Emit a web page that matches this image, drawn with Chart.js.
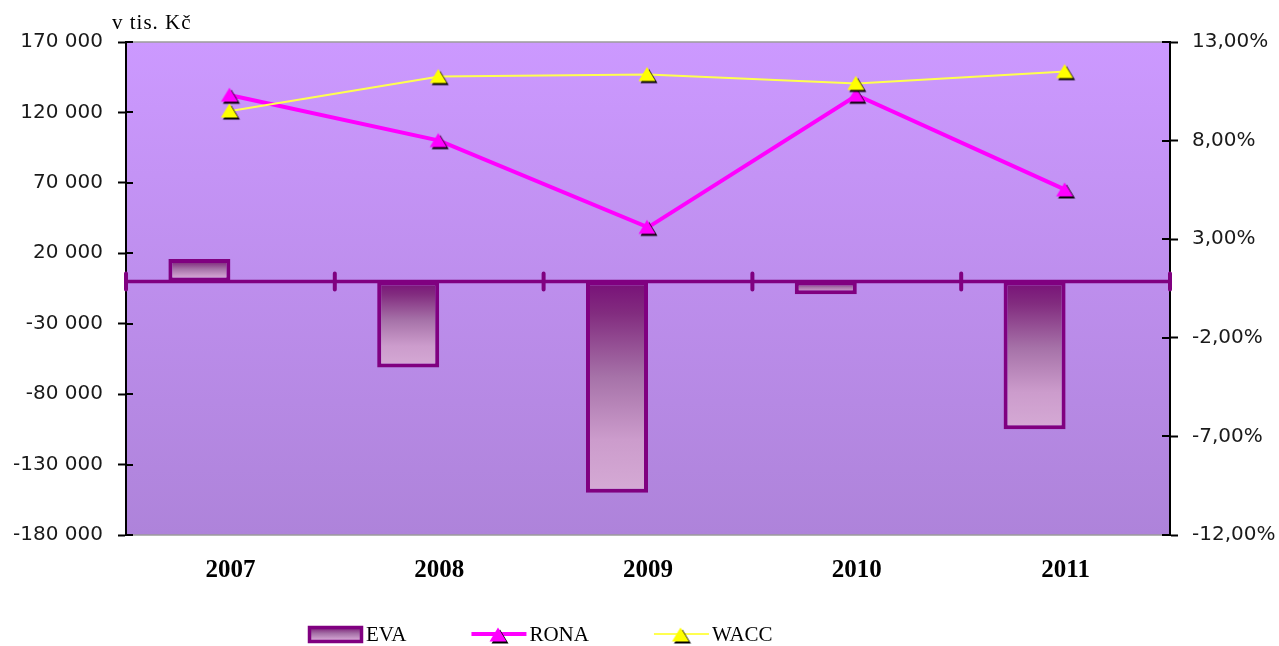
<!DOCTYPE html>
<html>
<head>
<meta charset="utf-8">
<script src="https://cdn.jsdelivr.net/npm/chart.js@4"></script>
<style>
html,body{margin:0;padding:0;background:#fff}
canvas{display:block}
</style>
</head>
<body>
<canvas id="c" width="1279" height="646"></canvas>
<script>
// ---- data ----
const categories = ['2007', '2008', '2009', '2010', '2011'];
const evaValues = [16000, -61000, -150000, -9000, -105000];
const ronaValues = [10.3, 8.0, 3.6, 10.3, 5.5];
const waccValues = [9.5, 11.25, 11.35, 10.9, 11.5];
const leftTickLabels = ['-180 000', '-130 000', '-80 000', '-30 000', '20 000', '70 000', '120 000', '170 000'];
const rightTickLabels = ['-12,00%', '-7,00%', '-2,00%', '3,00%', '8,00%', '13,00%'];
const seriesNames = ['EVA', 'RONA', 'WACC'];
const unitLabel = 'v tis. Kč';

// ---- styles ----
const PURPLE = '#800080';
const MAGENTA = '#ff00ff';
const YELLOW = '#ffff00';
const WACC_LINE = '#ffff50';

function triangleImage(fill) {
  const c = document.createElement('canvas');
  c.width = 22; c.height = 20;
  const g = c.getContext('2d');
  const tri = (dx, dy, col) => {
    g.beginPath();
    g.moveTo(10 + dx, 2.5 + dy);
    g.lineTo(18.5 + dx, 16.5 + dy);
    g.lineTo(1.5 + dx, 16.5 + dy);
    g.closePath();
    g.fillStyle = col;
    g.fill();
  };
  tri(2, 2, '#000');
  tri(0, 0, fill);
  return c;
}
const triMagenta = triangleImage(MAGENTA);
const triYellow = triangleImage(YELLOW);

function barGradient(ctx, y1, y2) {
  const g = ctx.createLinearGradient(0, y1, 0, y2);
  g.addColorStop(0, '#781078');
  g.addColorStop(0.15, '#822c7f');
  g.addColorStop(0.45, '#a672a8');
  g.addColorStop(0.75, '#cc9ccc');
  g.addColorStop(1, '#d5aad5');
  return g;
}

const decor = {
  id: 'decor',
  beforeDraw(chart) {
    const {ctx, chartArea: a} = chart;
    ctx.save();
    const g = ctx.createLinearGradient(0, a.top, 0, a.bottom);
    g.addColorStop(0, '#cc99ff');
    g.addColorStop(1, '#ae83da');
    ctx.fillStyle = g;
    ctx.fillRect(a.left, a.top, a.right - a.left, a.bottom - a.top);
    ctx.strokeStyle = '#9c9c9c';
    ctx.lineWidth = 1.5;
    ctx.beginPath();
    ctx.moveTo(a.left, a.top); ctx.lineTo(a.right, a.top);
    ctx.moveTo(a.left, a.bottom); ctx.lineTo(a.right, a.bottom);
    ctx.stroke();
    ctx.restore();
  },
  afterDatasetDraw(chart, args) {
    if (args.index !== 0) return;
    const {ctx, chartArea: a, scales} = chart;
    const y0 = scales.y.getPixelForValue(0);
    const n = categories.length;
    ctx.save();
    ctx.strokeStyle = PURPLE;
    ctx.lineWidth = 3.5;
    ctx.beginPath();
    ctx.moveTo(a.left, y0); ctx.lineTo(a.right, y0);
    ctx.stroke();
    ctx.lineWidth = 4;
    ctx.lineCap = 'round';
    ctx.beginPath();
    for (let i = 0; i <= n; i++) {
      let x;
      if (i === 0) x = a.left;
      else if (i === n) x = a.right;
      else x = (scales.x.getPixelForTick(i - 1) + scales.x.getPixelForTick(i)) / 2;
      ctx.moveTo(x, y0 - 8); ctx.lineTo(x, y0 + 8);
    }
    ctx.stroke();
    ctx.restore();
  },
  afterDraw(chart) {
    const {ctx, chartArea: a, scales} = chart;
    ctx.save();
    // inner halves of axis tick marks
    ctx.strokeStyle = '#000';
    ctx.lineWidth = 2;
    ctx.beginPath();
    scales.y.ticks.forEach((t, i) => {
      const y = Math.round(scales.y.getPixelForTick(i));
      ctx.moveTo(a.left, y); ctx.lineTo(a.left + 7, y);
    });
    scales.y1.ticks.forEach((t, i) => {
      const y = Math.round(scales.y1.getPixelForTick(i));
      ctx.moveTo(a.right - 8, y); ctx.lineTo(a.right, y);
    });
    ctx.stroke();

    // unit label
    ctx.fillStyle = '#000';
    ctx.font = '21px "Liberation Serif"';
    try { ctx.letterSpacing = '1px'; } catch (e) {}
    ctx.textAlign = 'left';
    ctx.textBaseline = 'alphabetic';
    ctx.fillText(unitLabel, a.left - 14, a.top - 13);
    try { ctx.letterSpacing = '0px'; } catch (e) {}

    // legend
    const ly = 634;
    let x = 308;
    ctx.font = '21px "Liberation Serif"';
    ctx.textBaseline = 'middle';
    seriesNames.forEach((name, i) => {
      const w = 55;
      if (i === 0) {
        ctx.fillStyle = barGradient(ctx, ly - 8, ly + 9);
        ctx.fillRect(x, ly - 8, w, 17);
        ctx.strokeStyle = PURPLE;
        ctx.lineWidth = 3.5;
        ctx.strokeRect(x + 1.5, ly - 6.5, w - 3, 14);
      } else {
        const ds = chart.data.datasets.find(d => d.label === name);
        ctx.strokeStyle = ds.borderColor;
        ctx.lineWidth = ds.borderWidth;
        ctx.beginPath();
        ctx.moveTo(x, ly); ctx.lineTo(x + w, ly);
        ctx.stroke();
        const img = ds.pointStyle;
        ctx.drawImage(img, x + w / 2 - img.width / 2, ly - img.height / 2 + 1);
      }
      ctx.fillStyle = '#000';
      ctx.fillText(name, x + w + 3, ly + 1);
      x = x + w + 3 + ctx.measureText(name).width + 65;
    });
    ctx.restore();
  }
};

const tickFont = {family: '"DejaVu Sans"', size: 20};

new Chart(document.getElementById('c'), {
  data: {
    labels: categories,
    datasets: [
      {
        type: 'bar',
        label: seriesNames[0],
        data: evaValues,
        yAxisID: 'y',
        order: 2,
        backgroundColor: (c) => {
          const chart = c.chart;
          if (!chart.chartArea || c.raw === undefined || c.raw === null) return '#b080b0';
          const ys = chart.scales.y;
          const v = c.raw;
          return barGradient(chart.ctx, ys.getPixelForValue(Math.max(v, 0)), ys.getPixelForValue(Math.min(v, 0)));
        },
        borderColor: PURPLE,
        borderWidth: 4,
        borderSkipped: false,
        barPercentage: 1,
        categoryPercentage: 0.594
      },
      {
        type: 'bar',
        label: '',
        data: categories.map(() => null),
        yAxisID: 'y',
        order: 3,
        barPercentage: 1,
        categoryPercentage: 0.594
      },
      {
        type: 'line',
        label: seriesNames[1],
        data: ronaValues,
        yAxisID: 'y1',
        order: 1,
        borderColor: MAGENTA,
        borderWidth: 4,
        tension: 0,
        pointStyle: triMagenta,
        pointRadius: 9,
        pointHoverRadius: 9
      },
      {
        type: 'line',
        label: seriesNames[2],
        data: waccValues,
        yAxisID: 'y1',
        order: 0,
        borderColor: WACC_LINE,
        borderWidth: 2,
        tension: 0,
        pointStyle: triYellow,
        pointRadius: 9,
        pointHoverRadius: 9
      }
    ]
  },
  options: {
    responsive: false,
    animation: false,
    devicePixelRatio: 1,
    layout: {padding: {top: 42, bottom: 56, left: 0, right: 0}},
    plugins: {
      legend: {display: false},
      tooltip: {enabled: false}
    },
    scales: {
      x: {
        type: 'category',
        offset: true,
        grid: {display: false, drawTicks: false},
        border: {display: false},
        ticks: {
          font: {family: '"Liberation Serif"', size: 25, weight: 'bold'},
          color: '#000',
          padding: 21,
          maxRotation: 0
        },
        afterFit: (s) => { s.height = 55; }
      },
      y: {
        type: 'linear',
        position: 'left',
        min: -180000,
        max: 170000,
        ticks: {
          stepSize: 50000,
          font: tickFont,
          color: '#1a1a1a',
          padding: 15,
          callback: (v, i) => leftTickLabels[i]
        },
        grid: {drawOnChartArea: false, color: '#000', tickLength: 8, tickWidth: 2, tickColor: '#000'},
        border: {display: true, color: '#000', width: 2},
        afterFit: (s) => { s.width = 126; }
      },
      y1: {
        type: 'linear',
        position: 'right',
        min: -12,
        max: 13,
        ticks: {
          stepSize: 5,
          font: tickFont,
          color: '#1a1a1a',
          padding: 14,
          callback: (v, i) => rightTickLabels[i]
        },
        grid: {drawOnChartArea: false, color: '#000', tickLength: 8, tickWidth: 2, tickColor: '#000'},
        border: {display: true, color: '#000', width: 2},
        afterFit: (s) => { s.width = 109; }
      }
    }
  },
  plugins: [decor]
});
</script>
</body>
</html>
